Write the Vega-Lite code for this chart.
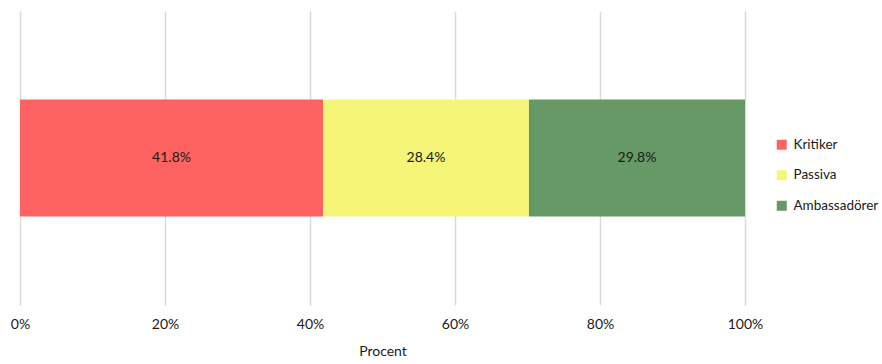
{
  "$schema": "https://vega.github.io/schema/vega-lite/v6.json",
  "width": 725,
  "height": 294,
  "autosize": {"type": "none"},
  "padding": {"left": 20, "top": 11, "right": 137, "bottom": 59},
  "background": "white",
  "config": {
    "view": {"stroke": null},
    "font": "Lato",
    "text": {"font": "Lato"}
  },
  "data": {
    "values": [
      {"grupp": "Kritiker", "andel": 41.8, "ordning": 1, "rad": "Alla"},
      {"grupp": "Passiva", "andel": 28.4, "ordning": 2, "rad": "Alla"},
      {"grupp": "Ambassadörer", "andel": 29.8, "ordning": 3, "rad": "Alla"}
    ]
  },
  "transform": [
    {"stack": "andel", "groupby": ["rad"], "sort": [{"field": "ordning", "order": "ascending"}], "as": ["start", "slut"]},
    {"calculate": "(datum.start + datum.slut) / 2", "as": "mitt"},
    {"calculate": "format(datum.andel, '.1f') + '%'", "as": "etikett"}
  ],
  "encoding": {
    "y": {
      "field": "rad",
      "type": "nominal",
      "axis": null,
      "scale": {"paddingInner": 0, "paddingOuter": 0.756}
    }
  },
  "layer": [
    {
      "mark": {"type": "bar"},
      "encoding": {
        "x": {
          "field": "start",
          "type": "quantitative",
          "scale": {"domain": [0, 100], "nice": false},
          "axis": {
            "values": [0, 20, 40, 60, 80, 100],
            "labelExpr": "datum.value + '%'",
            "labelFlush": false,
            "labelOverlap": false,
            "domain": false,
            "ticks": false,
            "grid": true,
            "gridColor": "#d9d9d9",
            "gridWidth": 1.5,
            "labelFontSize": 14,
            "labelColor": "#1a1a1a",
            "labelPadding": 12,
            "labelFont": "Lato",
            "title": "Procent",
            "titleFont": "Lato",
            "titleFontSize": 14,
            "titleFontWeight": "normal",
            "titleColor": "#1a1a1a",
            "titlePadding": 13
          }
        },
        "x2": {"field": "slut"},
        "color": {
          "field": "grupp",
          "type": "nominal",
          "sort": ["Kritiker", "Passiva", "Ambassadörer"],
          "scale": {
            "domain": ["Kritiker", "Passiva", "Ambassadörer"],
            "range": ["#ff6361", "#f5f577", "#669966"]
          },
          "legend": {
            "title": null,
            "orient": "none",
            "legendX": 755,
            "legendY": 127,
            "symbolType": "square",
            "symbolSize": 100,
            "symbolStrokeWidth": 0,
            "labelFontSize": 13.5,
            "labelFont": "Lato",
            "labelColor": "#1a1a1a",
            "labelOffset": 5,
            "rowPadding": 15.5
          }
        }
      }
    },
    {
      "mark": {"type": "text", "fontSize": 14, "color": "#1a1a1a", "font": "Lato"},
      "encoding": {
        "x": {"field": "mitt", "type": "quantitative"},
        "text": {"field": "etikett", "type": "nominal"}
      }
    }
  ]
}
